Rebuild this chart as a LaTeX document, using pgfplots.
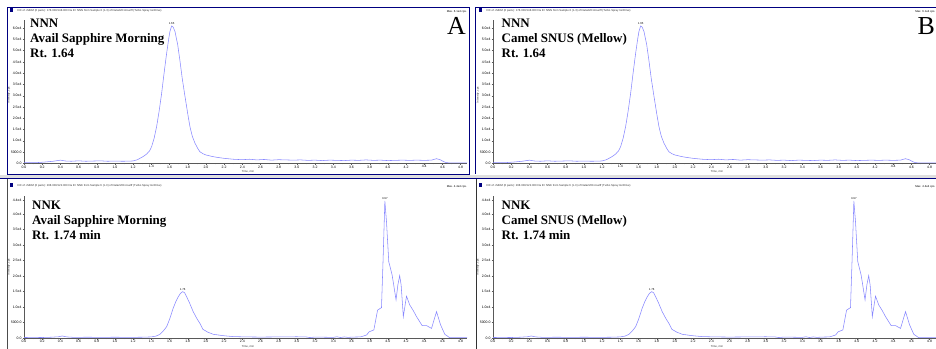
\documentclass[border=0pt]{standalone}
\usepackage{pgfplots}
\pgfplotsset{compat=1.18}
\usepackage{pgfplotstable}
\usepackage{fontspec}
\setmainfont{Liberation Serif}
\newfontfamily\arial{Liberation Sans}
\definecolor{curve}{RGB}{135,135,255}
\definecolor{navy}{RGB}{0,0,128}

\pgfplotstableread{
t y
0.00 300
0.08 250
0.16 350
0.24 600
0.32 900
0.40 1400
0.46 1000
0.52 900
0.60 1100
0.68 900
0.76 1000
0.84 1100
0.92 900
1.00 1000
1.08 900
1.16 950
1.20 1050
1.24 1500
1.275 2200
1.31 3000
1.348 4100
1.38 5500
1.403 7400
1.43 11000
1.458 16300
1.485 23000
1.513 31000
1.54 40000
1.568 48800
1.59 55000
1.604 58400
1.623 60900
1.64 60400
1.66 58400
1.69 52500
1.714 45600
1.74 37500
1.77 29600
1.80 22000
1.824 16300
1.85 12000
1.88 8900
1.91 6600
1.934 5100
1.97 4200
2.00 3700
2.06 3100
2.12 2650
2.20 2200
2.30 1800
2.40 1600
2.48 1800
2.56 1500
2.64 1700
2.72 1400
2.80 1600
2.88 1500
2.96 1400
3.04 1500
3.12 1300
3.20 1400
3.28 1200
3.36 1400
3.44 1300
3.52 1200
3.60 1400
3.68 1300
3.76 1500
3.84 1300
3.92 1400
4.00 1200
4.08 1300
4.16 1400
4.24 1300
4.32 1400
4.40 1300
4.48 1400
4.535 2050
4.58 1500
4.62 600
4.645 270
4.70 150
4.87 150
}\nnndata

\pgfplotstableread{
t y
0.00 150
0.10 200
0.20 150
0.30 250
0.38 400
0.42 650
0.47 350
0.55 200
0.70 250
0.85 200
1.00 250
1.15 200
1.30 250
1.40 350
1.45 600
1.495 1180
1.53 2200
1.568 3650
1.60 6000
1.64 9600
1.67 11800
1.696 13300
1.72 14400
1.744 14950
1.765 14600
1.788 13300
1.82 11300
1.86 8500
1.90 6300
1.934 4700
1.967 2800
2.02 1900
2.08 1200
2.19 750
2.30 450
2.45 350
2.60 300
2.80 350
3.00 400
3.10 350
3.14 150
3.20 300
3.30 250
3.40 200
3.44 400
3.48 150
3.52 350
3.56 200
3.62 300
3.70 350
3.766 970
3.795 2000
3.846 2600
3.887 9000
3.93 9800
3.948 25700
3.967 44200
3.985 37500
4.01 24600
4.047 20300
4.09 12300
4.11 17100
4.13 20100
4.146 17100
4.17 6900
4.205 13500
4.24 10700
4.28 8800
4.315 6900
4.345 5500
4.377 4000
4.425 4000
4.48 3100
4.535 8500
4.58 4200
4.626 1200
4.68 100
4.87 100
}\nnkdata

\pgfplotsset{
  chrom/.style={
    scale only axis, width=443bp, xmin=0, xmax=4.87, ymin=0,
    axis x line*=bottom, axis y line*=left,
    axis line style={black!65, line width=0.4pt},
    tick style={black!65, line width=0.3pt},
    tick align=outside, major tick length=1.5bp, minor tick length=1bp,
    xtick={0,0.2,0.4,0.6,0.8,1.0,1.2,1.4,1.6,1.8,2.0,2.2,2.4,2.6,2.8,3.0,3.2,3.4,3.6,3.8,4.0,4.2,4.4,4.6,4.8},
    minor x tick num=1,
    scaled y ticks=false, scaled x ticks=false,
    xticklabel style={/pgf/number format/fixed, /pgf/number format/fixed zerofill, /pgf/number format/precision=1, inner sep=0.6bp},
    yticklabel style={inner sep=0.8bp},
    /pgf/number format/assume math mode=true,
    tick label style={font=\arial\fontsize{3.5}{4}\selectfont},
    clip mode=individual,
  },
  curvestyle/.style={curve, line width=0.55pt, no markers},
}
\tikzset{pk/.style={anchor=south, inner sep=0.8bp, font=\arial\fontsize{2.8}{3}\selectfont}}

\begin{document}
\begin{tikzpicture}
\useasboundingbox (0bp,0bp) rectangle (936bp,349bp);

\begin{scope}[x=1bp,y=1bp]
% frames
\fill[gray!25] (0,170.5) rectangle (936,174);
\draw[navy, line width=0.8pt] (7,175) -- (7,342) -- (469,342) -- (469,175) -- cycle;
\draw[navy, line width=0.8pt] (475,175) -- (475,342) -- (936,342);
\draw[navy, line width=0.8pt] (0,171) -- (936,171);
\draw[black!70, line width=0.6pt] (7,0) -- (7,170);
\draw[black!80, line width=0.6pt] (476.5,0) -- (476.5,170);

% headers
\foreach \xo in {0,469}{
  \fill[navy] (\xo+9.5,337) rectangle (\xo+13,340.5);
  \node[anchor=west, inner sep=0, font=\arial\fontsize{2.8}{3}\selectfont, text=black!80] at (\xo+17,338.7) {XIC of +MRM (6 pairs): 178.000/148.000 Da ID: NNN from Sample 6 (1-3) of Data220114.wiff (Turbo Spray IonDrive)};
  \fill[navy] (\xo+9.5,162) rectangle (\xo+13,165.5);
  \node[anchor=west, inner sep=0, font=\arial\fontsize{2.8}{3}\selectfont, text=black!80] at (\xo+17,163.7) {XIC of +MRM (6 pairs): 208.000/122.000 Da ID: NNK from Sample 6 (1-3) of Data220114.wiff (Turbo Spray IonDrive)};
  \node[rotate=90, inner sep=0, font=\arial\fontsize{2.8}{3}\selectfont, text=black!80] at (\xo+9,254) {Intensity, cps};
  \node[rotate=90, inner sep=0, font=\arial\fontsize{2.8}{3}\selectfont, text=black!80] at (\xo+9,82) {Intensity, cps};
  \node[inner sep=0, font=\arial\fontsize{2.8}{3}\selectfont, text=black!80] at (\xo+248,177.2) {Time, min};
  \node[inner sep=0, font=\arial\fontsize{2.8}{3}\selectfont, text=black!80] at (\xo+248,2) {Time, min};
}
\node[anchor=east, inner sep=0, font=\arial\fontsize{2.8}{3}\selectfont] at (467,337.5) {Max. 6.1e4 cps.};
\node[anchor=east, inner sep=0, font=\arial\fontsize{2.8}{3}\selectfont] at (935.5,337.5) {Max. 6.1e4 cps.};
\node[anchor=east, inner sep=0, font=\arial\fontsize{2.8}{3}\selectfont] at (467,162.5) {Max. 4.4e4 cps.};
\node[anchor=east, inner sep=0, font=\arial\fontsize{2.8}{3}\selectfont] at (935.5,162.5) {Max. 4.4e4 cps.};
\end{scope}

% top-left
\begin{axis}[chrom, at={(24bp,185.7bp)}, anchor=south west, height=143.3bp, ymax=63550,
  ytick={0,5000,10000,15000,20000,25000,30000,35000,40000,45000,50000,55000,60000},
  yticklabels={0.0,5000.0,1.0e4,1.5e4,2.0e4,2.5e4,3.0e4,3.5e4,4.0e4,4.5e4,5.0e4,5.5e4,6.0e4}]
\addplot[curvestyle] table[x=t,y=y] {\nnndata};
\node[pk] at (axis cs:1.623,60900) {1.65};
\end{axis}

% top-right
\begin{axis}[chrom, at={(493bp,185.7bp)}, anchor=south west, height=143.3bp, ymax=63550,
  ytick={0,5000,10000,15000,20000,25000,30000,35000,40000,45000,50000,55000,60000},
  yticklabels={0.0,5000.0,1.0e4,1.5e4,2.0e4,2.5e4,3.0e4,3.5e4,4.0e4,4.5e4,5.0e4,5.5e4,6.0e4}]
\addplot[curvestyle] table[x=t,y=y] {\nnndata};
\node[pk] at (axis cs:1.623,60900) {1.65};
\end{axis}

% bottom-left
\begin{axis}[chrom, at={(24bp,11bp)}, anchor=south west, height=142bp, ymax=45800,
  ytick={0,5000,10000,15000,20000,25000,30000,35000,40000,44400},
  yticklabels={0.0,5000.0,1.0e4,1.5e4,2.0e4,2.5e4,3.0e4,3.5e4,4.0e4,4.4e4}]
\addplot[curvestyle] table[x=t,y=y] {\nnkdata};
\node[pk] at (axis cs:1.744,14950) {1.76};
\node[pk] at (axis cs:3.967,44200) {3.97};
\end{axis}

% bottom-right
\begin{axis}[chrom, at={(493bp,11bp)}, anchor=south west, height=142bp, ymax=45800,
  ytick={0,5000,10000,15000,20000,25000,30000,35000,40000,44400},
  yticklabels={0.0,5000.0,1.0e4,1.5e4,2.0e4,2.5e4,3.0e4,3.5e4,4.0e4,4.4e4}]
\addplot[curvestyle] table[x=t,y=y] {\nnkdata};
\node[pk] at (axis cs:1.744,14950) {1.76};
\node[pk] at (axis cs:3.967,44200) {3.97};
\end{axis}

\begin{scope}[x=1bp,y=1bp]
% big labels
\node[anchor=north west, inner sep=0, align=left, font=\bfseries\fontsize{13}{15.2}\selectfont] at (30,330) {NNN\\Avail Sapphire Morning\\Rt. 1.64};
\node[anchor=north west, inner sep=0, align=left, font=\bfseries\fontsize{13}{15.2}\selectfont] at (501.5,330) {NNN\\Camel SNUS (Mellow)\\Rt. 1.64};
\node[anchor=north west, inner sep=0, align=left, font=\bfseries\fontsize{13}{15.2}\selectfont] at (32,148) {NNK\\Avail Sapphire Morning\\Rt. 1.74 min};
\node[anchor=north west, inner sep=0, align=left, font=\bfseries\fontsize{13}{15.2}\selectfont] at (501.5,148) {NNK\\Camel SNUS (Mellow)\\Rt. 1.74 min};
\node[anchor=north east, inner sep=0, font=\fontsize{26}{26}\selectfont] at (466,331.5) {A};
\node[anchor=north east, inner sep=0, font=\fontsize{26}{26}\selectfont] at (935,332) {B};
\end{scope}
\end{tikzpicture}
\end{document}
